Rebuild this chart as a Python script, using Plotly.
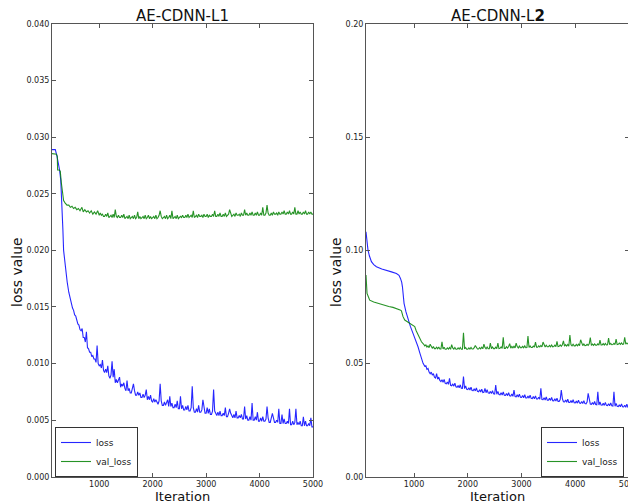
import plotly.graph_objects as go

# ---------------- data: AE-CDNN-L1 ----------------
l1_loss_x = [116,150,178,210,235,258,280,300,320,333,360,400,430,458,500,520,540,560,580,600,620,640,660,680,700,720,740,760,780,800,820,840,860,880,900,920,940,960,980] + list(range(1000, 5001, 20))
l1_loss_y = [.0289,.0289,.0289,.0283,.0277,.0271,.0262,.0245,.0218,.0200,.0186,.0172,.0163,.0156,.0149,.0147,.0143,.0142,.0138,.0135,.0134,.0130,.0129,.0131,.0123,.0123,.0119,.0128,.0114,.0113,.0110,.0110,.0106,.0107,.0104,.0104,.0101,.0116,.0100,
    .0098,.0099,.0096,.0103,.0094,
    .0092,.0095,.0092,.0098,.0089,
    .0087,.0090,.0102,.0088,.0095,
    .0083,.0086,.0083,.0085,.0088,
    .0079,.0082,.0080,.0083,.0078,
    .0076,.0085,.0076,.0078,.0074,
    .0074,.0077,.0082,.0076,.0072,
    .0072,.0075,.0072,.0074,.0070,
    .0070,.0073,.0070,.0072,.0077,
    .0068,.0071,.0068,.0072,.0067,
    .0066,.0069,.0066,.0068,.0065,
    .0064,.0067,.0082,.0067,.0063,
    .0063,.0066,.0063,.0066,.0068,
    .0062,.0071,.0062,.0065,.0061,
    .0061,.0064,.0061,.0067,.0060,
    .0060,.0071,.0060,.0063,.0059,
    .0059,.0062,.0059,.0063,.0058,
    .0058,.0061,.0080,.0061,.0057,
    .0057,.0060,.0057,.0063,.0057,
    .0057,.0059,.0068,.0060,.0056,
    .0056,.0061,.0056,.0060,.0055,
    .0055,.0058,.0077,.0058,.0055,
    .0054,.0057,.0054,.0058,.0054,
    .0054,.0056,.0054,.0061,.0053,
    .0053,.0056,.0060,.0056,.0053,
    .0052,.0055,.0052,.0058,.0052,
    .0052,.0054,.0052,.0055,.0051,
    .0051,.0062,.0051,.0054,.0050,
    .0050,.0053,.0050,.0065,.0050,
    .0050,.0053,.0050,.0057,.0049,
    .0049,.0052,.0049,.0053,.0049,
    .0049,.0051,.0062,.0052,.0048,
    .0048,.0051,.0056,.0052,.0048,
    .0048,.0050,.0048,.0060,.0047,
    .0047,.0055,.0047,.0051,.0047,
    .0047,.0049,.0047,.0060,.0046,
    .0046,.0049,.0046,.0048,.0060,
    .0046,.0048,.0046,.0049,.0045,
    .0045,.0053,.0045,.0049,.0045,
    .0045,.0047,.0045,.0052,.0044,
    .0044]

l1_val_x = [116,150,200,215,221,250,271,290,303,320,333,360,396,430,460,490,520,550,580,610,640,676,700,730,760,790,820,850,880,910,940,970] + list(range(1000, 5001, 20))
l1_val_y = [.02855,.02855,.0285,.0283,.0271,.0271,.0270,.0260,.0253,.0247,.0244,.0242,.0240,.0240,.0238,.0239,.0237,.0238,.0236,.0237,.0235,.0238,.0234,.0236,.0234,.0235,.0233,.0235,.0232,.0234,.0232,.0235,
    .0231,.0233,.0231,.0232,.0230,
    .0230,.0232,.0230,.0233,.0229,
    .0230,.0231,.0229,.0232,.0229,
    .0236,.0230,.0229,.0231,.0229,
    .0229,.0231,.0229,.0232,.0228,
    .0229,.0230,.0228,.0231,.0228,
    .0229,.0230,.0228,.0231,.0228,
    .0229,.0234,.0228,.0230,.0228,
    .0229,.0230,.0228,.0231,.0228,
    .0229,.0231,.0228,.0230,.0228,
    .0229,.0230,.0228,.0231,.0228,
    .0229,.0231,.0235,.0230,.0228,
    .0229,.0230,.0228,.0231,.0228,
    .0229,.0231,.0228,.0235,.0228,
    .0229,.0230,.0228,.0231,.0228,
    .0229,.0230,.0229,.0231,.0229,
    .0229,.0231,.0229,.0232,.0229,
    .0230,.0231,.0229,.0235,.0229,
    .0230,.0231,.0229,.0232,.0230,
    .0230,.0231,.0229,.0232,.0230,
    .0230,.0232,.0229,.0231,.0230,
    .0230,.0232,.0230,.0235,.0230,
    .0230,.0232,.0230,.0233,.0230,
    .0230,.0232,.0230,.0233,.0230,
    .0231,.0232,.0236,.0232,.0230,
    .0231,.0232,.0230,.0233,.0231,
    .0231,.0232,.0230,.0233,.0231,
    .0231,.0236,.0231,.0233,.0231,
    .0231,.0233,.0231,.0234,.0231,
    .0231,.0233,.0231,.0234,.0231,
    .0231,.0233,.0231,.0238,.0231,
    .0231,.0233,.0240,.0233,.0231,
    .0231,.0233,.0231,.0234,.0232,
    .0232,.0233,.0231,.0234,.0232,
    .0232,.0234,.0232,.0235,.0232,
    .0232,.0234,.0232,.0235,.0232,
    .0232,.0234,.0232,.0238,.0232,
    .0232,.0235,.0232,.0234,.0232,
    .0232,.0234,.0232,.0235,.0232,
    .0232,.0234,.0232,.0234,.0232,
    .0232]

# ---------------- data: AE-CDNN-L2 ----------------
l2_loss_x = [106,120,143,170,207,250,300,400,486,580,672,720,747,770,784,800,814,850,888,930,981,1030,1074,1110,1149,1168] + list(range(1200, 5001, 20))
l2_loss_y = [.1082,.1040,.1001,.0975,.0950,.0937,.0928,.0918,.0913,.0905,.0898,.0890,.0876,.0860,.0839,.0800,.0766,.0728,.0692,.0665,.0633,.0603,.0574,.0545,.0515,.0501,
    .0488,.0490,.0474,.0478,.0462,
    .0455,.0462,.0449,.0455,.0440,
    .0436,.0455,.0431,.0440,.0425,
    .0420,.0428,.0417,.0430,.0412,
    .0410,.0418,.0408,.0435,.0404,
    .0402,.0410,.0400,.0413,.0397,
    .0395,.0403,.0393,.0406,.0391,
    .0390,.0442,.0389,.0401,.0386,
    .0385,.0393,.0383,.0396,.0381,
    .0380,.0389,.0379,.0392,.0377,
    .0375,.0384,.0374,.0387,.0372,
    .0373,.0390,.0371,.0384,.0370,
    .0368,.0377,.0367,.0380,.0366,
    .0365,.0405,.0364,.0377,.0363,
    .0362,.0371,.0361,.0374,.0360,
    .0359,.0368,.0358,.0371,.0357,
    .0356,.0365,.0355,.0383,.0354,
    .0353,.0362,.0352,.0365,.0351,
    .0350,.0359,.0349,.0362,.0348,
    .0348,.0356,.0347,.0360,.0346,
    .0345,.0354,.0344,.0357,.0343,
    .0343,.0351,.0342,.0390,.0341,
    .0340,.0349,.0339,.0352,.0338,
    .0338,.0346,.0337,.0350,.0336,
    .0335,.0344,.0334,.0347,.0333,
    .0333,.0341,.0383,.0345,.0331,
    .0330,.0339,.0329,.0342,.0328,
    .0328,.0337,.0327,.0340,.0327,
    .0326,.0334,.0325,.0338,.0325,
    .0324,.0332,.0323,.0336,.0323,
    .0322,.0330,.0368,.0334,.0321,
    .0320,.0328,.0319,.0332,.0319,
    .0318,.0375,.0317,.0330,.0317,
    .0316,.0324,.0315,.0328,.0315,
    .0314,.0322,.0313,.0326,.0313,
    .0312,.0375,.0311,.0324,.0311,
    .0310,.0318,.0309,.0322,.0309,
    .0308,.0316,.0307,.0320,.0307,
    .0306]

l2_val_x = [106,125,150,175,250,361,450,530,609,680,740,765,780,795,827,870,920,960,1013,1040,1074,1100,1138,1180] + list(range(1200, 5001, 20))
l2_val_y = [.0891,.0810,.0795,.0780,.0772,.0763,.0757,.0752,.0748,.0743,.0737,.0733,.0720,.0707,.0692,.0685,.0678,.0672,.0663,.0645,.0626,.0610,.0596,.0585,
    .0578,.0582,.0573,.0578,.0570,
    .0585,.0574,.0567,.0575,.0566,
    .0566,.0572,.0565,.0573,.0564,
    .0564,.0596,.0564,.0572,.0563,
    .0563,.0569,.0564,.0571,.0563,
    .0583,.0569,.0564,.0571,.0563,
    .0563,.0569,.0564,.0571,.0563,
    .0563,.0636,.0564,.0571,.0563,
    .0563,.0569,.0564,.0571,.0564,
    .0564,.0570,.0580,.0572,.0564,
    .0564,.0570,.0565,.0572,.0565,
    .0586,.0571,.0565,.0573,.0565,
    .0565,.0590,.0566,.0573,.0566,
    .0566,.0572,.0566,.0590,.0566,
    .0567,.0573,.0567,.0616,.0567,
    .0567,.0574,.0568,.0575,.0588,
    .0568,.0575,.0569,.0576,.0569,
    .0590,.0575,.0569,.0577,.0570,
    .0570,.0576,.0570,.0578,.0570,
    .0571,.0621,.0571,.0578,.0571,
    .0571,.0577,.0572,.0595,.0572,
    .0572,.0578,.0573,.0580,.0573,
    .0595,.0579,.0573,.0581,.0574,
    .0574,.0580,.0574,.0582,.0574,
    .0575,.0581,.0575,.0598,.0575,
    .0576,.0582,.0576,.0583,.0600,
    .0577,.0583,.0577,.0584,.0577,
    .0626,.0583,.0578,.0585,.0578,
    .0578,.0584,.0578,.0585,.0579,
    .0605,.0585,.0579,.0586,.0579,
    .0580,.0585,.0580,.0587,.0615,
    .0580,.0586,.0580,.0587,.0581,
    .0581,.0587,.0581,.0603,.0582,
    .0582,.0588,.0582,.0589,.0582,
    .0583,.0612,.0583,.0589,.0583,
    .0584,.0589,.0584,.0608,.0584,
    .0585,.0590,.0585,.0591,.0585,
    .0586,.0616,.0586,.0591,.0586,
    .0586]

l1_yticks = [0.000,0.005,0.010,0.015,0.020,0.025,0.030,0.035,0.040]
l2_yticks = [0.00,0.05,0.10,0.15,0.20]
x_ticks = [1000,2000,3000,4000,5000]

BLUE = "rgba(0,0,255,0.85)"
GREEN = "rgba(0,128,0,0.85)"

fig = go.Figure()
fig.add_trace(go.Scatter(x=l1_loss_x, y=l1_loss_y, mode="lines", name="loss",
                         line=dict(color=BLUE, width=1.1), xaxis="x", yaxis="y", legend="legend"))
fig.add_trace(go.Scatter(x=l1_val_x, y=l1_val_y, mode="lines", name="val_loss",
                         line=dict(color=GREEN, width=1.1), xaxis="x", yaxis="y", legend="legend"))
fig.add_trace(go.Scatter(x=l2_loss_x, y=l2_loss_y, mode="lines", name="loss",
                         line=dict(color=BLUE, width=1.1), xaxis="x2", yaxis="y2", legend="legend2"))
fig.add_trace(go.Scatter(x=l2_val_x, y=l2_val_y, mode="lines", name="val_loss",
                         line=dict(color=GREEN, width=1.1), xaxis="x2", yaxis="y2", legend="legend2"))

# page body has an 8px margin: figure is drawn 8px right/down, so size and place accordingly
W, H = 628, 496
axis_common = dict(showgrid=False, zeroline=False, showline=True, linecolor="#555", linewidth=1,
                   mirror="ticks", ticks="inside", ticklen=4, tickcolor="#555",
                   tickfont=dict(family="DejaVu Sans", size=8, color="#222"), automargin=False,
                   ticklabeloverflow="allow")

fig.update_layout(
    width=W, height=H, margin=dict(l=0, r=0, t=0, b=0),
    paper_bgcolor="white", plot_bgcolor="white",
    xaxis=dict(domain=[44/W, 305/W], range=[116, 5000], tickvals=x_ticks, anchor="y", **axis_common),
    yaxis=dict(domain=[1-468.7/H, 1-16/H], range=[0, 0.040], tickvals=l1_yticks,
               ticktext=[f"{v:.3f}" for v in l1_yticks], anchor="x", **axis_common),
    xaxis2=dict(domain=[358/W, 621/W], range=[106, 5000], tickvals=x_ticks, anchor="y2", **axis_common),
    yaxis2=dict(domain=[1-468.7/H, 1-16/H], range=[0, 0.20], tickvals=l2_yticks,
                ticktext=[f"{v:.2f}" for v in l2_yticks], anchor="x2", **axis_common),
    legend=dict(x=47/W, y=1-469/H, xanchor="left", yanchor="bottom", bgcolor="white",
                bordercolor="#333", borderwidth=1, font=dict(family="DejaVu Sans", size=9, color="#222"),
                tracegroupgap=0, itemwidth=30),
    legend2=dict(x=616/W, y=1-469/H, xanchor="right", yanchor="bottom", bgcolor="white",
                 bordercolor="#333", borderwidth=1, font=dict(family="DejaVu Sans", size=9, color="#222"),
                 tracegroupgap=0, itemwidth=30),
    showlegend=True,
)

ann_font = dict(family="DejaVu Sans", color="#111")
fig.add_annotation(text="AE-CDNN-L1", x=174.5/W, y=1-8/H, xref="paper", yref="paper", borderpad=0,
                   showarrow=False, xanchor="center", yanchor="middle", font=dict(size=15, **ann_font))
fig.add_annotation(text="AE-CDNN-L<b>2</b>", x=489.5/W, y=1-8/H, xref="paper", yref="paper", borderpad=0,
                   showarrow=False, xanchor="center", yanchor="middle", font=dict(size=15, **ann_font))
for cx in (174.5, 489.5):
    fig.add_annotation(text="Iteration", x=cx/W, y=1-488/H, xref="paper", yref="paper", borderpad=0,
                       showarrow=False, xanchor="center", yanchor="middle", font=dict(size=13, **ann_font))
for lx in (9, 328):
    fig.add_annotation(text="loss value", x=lx/W, y=1-264/H, xref="paper", yref="paper",
                       showarrow=False, xanchor="center", yanchor="middle", textangle=-90,
                       font=dict(size=14, **ann_font))

fig.write_html("out.html")
